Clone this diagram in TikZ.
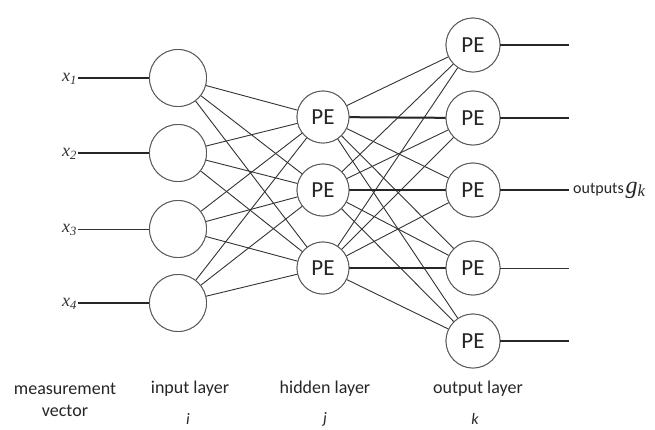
\documentclass[tikz,border=0pt]{standalone}
\usepackage{fontspec}
\setmainfont{Carlito}
\newfontfamily\tms{Liberation Serif}
\begin{document}
\begin{tikzpicture}[x=1pt,y=-1pt,
  neuron/.style={circle,draw=black!65,line width=0.9pt,fill=white,inner sep=0pt},
  inn/.style={neuron,minimum size=57pt},
  pe/.style={neuron,minimum size=52pt,font=\fontsize{23}{23}\selectfont,text=black!85},
  peo/.style={neuron,minimum size=54pt,font=\fontsize{23}{23}\selectfont,text=black!85},
  conn/.style={draw=black!80,line width=0.9pt},
  thickconn/.style={draw=black!85,line width=2pt},
  midconn/.style={draw=black!85,line width=1.4pt},
  xlab/.style={anchor=east,inner sep=1pt,font=\tms\fontsize{18}{18}\selectfont\itshape,text=black!80},
  layerlab/.style={font=\fontsize{18}{22}\selectfont,align=center,text=black!85},
  idxlab/.style={font=\fontsize{16}{16}\selectfont\itshape,text=black!85}]
\useasboundingbox (0,0) rectangle (655,429);
\fill[white] (0,0) rectangle (655,429);
% input layer
\node[inn] (in1) at (178,78) {};
\node[inn] (in2) at (178,153) {};
\node[inn] (in3) at (178,229) {};
\node[inn] (in4) at (178,303) {};
% hidden layer
\node[pe] (h1) at (323,117) {PE};
\node[pe] (h2) at (323,190) {PE};
\node[pe] (h3) at (323,268) {PE};
% output layer
\node[peo] (o1) at (473,45) {PE};
\node[peo] (o2) at (473,118) {PE};
\node[peo] (o3) at (473,190) {PE};
\node[peo] (o4) at (473,268) {PE};
\node[peo] (o5) at (473,341) {PE};
% connections input -> hidden
\foreach \i in {1,2,3,4}{
  \foreach \j in {1,2,3}{
    \path[conn] (in\i) -- (h\j);
  }
}
% connections hidden -> output
\foreach \j in {1,2,3}{
  \foreach \k in {1,2,3,4,5}{
    \path[conn] (h\j) -- (o\k);
  }
}
\path[thickconn] (h1) -- (o2);
\path[thickconn] (h2) -- (o3);
\path[thickconn] (h3) -- (o4);
% redraw nodes on top
\node[inn] at (in1) {};
\node[inn] at (in2) {};
\node[inn] at (in3) {};
\node[inn] at (in4) {};
\node[pe] at (h1) {PE};
\node[pe] at (h2) {PE};
\node[pe] at (h3) {PE};
\node[peo] at (o1) {PE};
\node[peo] at (o2) {PE};
\node[peo] at (o3) {PE};
\node[peo] at (o4) {PE};
\node[peo] at (o5) {PE};
% input labels and lines
\node[xlab] (x1) at (78,79) {x\textsubscript{1}};
\node[xlab] (x2) at (78,154) {x\textsubscript{2}};
\node[xlab] (x3) at (78,230) {x\textsubscript{3}};
\node[xlab] (x4) at (78,304) {x\textsubscript{4}};
\path[thickconn] (x1.east |- in1) -- (in1.west);
\path[thickconn] (x2.east |- in2) -- (in2.west);
\path[conn] (x3.east |- in3) -- (in3.west);
\path[thickconn] (x4.east |- in4) -- (in4.west);
% output lines
\coordinate (e1) at (569,45);
\coordinate (e2) at (569,118);
\coordinate (e3) at (569,190);
\coordinate (e4) at (569,268);
\coordinate (e5) at (569,341);
\path[thickconn] (o1.east) -- (e1);
\path[midconn] (o2.east) -- (e2);
\path[midconn] (o3.east) -- (e3);
\path[conn] (o4.east) -- (e4);
\path[thickconn] (o5.east) -- (e5);
\node[anchor=west,inner sep=4pt,text=black!85] (outl) at (e3) {{\fontsize{16}{16}\selectfont outputs}\,{\tms\fontsize{24}{24}\selectfont\itshape g\textsubscript{k}}};
% bottom labels
\node[layerlab] (lm) at (65,400) {measurement\\vector};
\node[layerlab] (li) at (190,389) {input layer};
\node[layerlab] (lh) at (325,389) {hidden layer};
\node[layerlab] (lo) at (478,389) {output layer};
\node[idxlab] (ii) at (188,419) {i};
\node[idxlab] (ij) at (325,419) {j};
\node[idxlab] (ik) at (475,419) {k};
\end{tikzpicture}
\end{document}
